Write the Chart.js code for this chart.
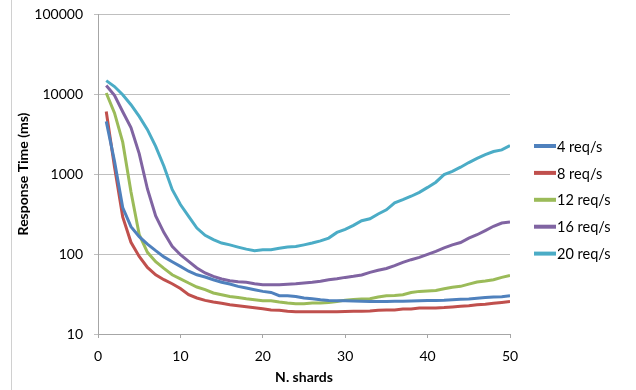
<!DOCTYPE html>
<html>
<head>
<meta charset="utf-8">
<script src="https://cdn.jsdelivr.net/npm/chart.js@4.4.0/dist/chart.umd.min.js"></script>
<style>
  html, body { margin: 0; padding: 0; background: #fff; }
  #wrap { width: 636px; height: 390px; }
</style>
</head>
<body>
<div id="wrap"><canvas id="chart" width="636" height="390"></canvas></div>
<script>
// N. shards
const shards = [1,2,3,4,5,6,7,8,9,10,11,12,13,14,15,16,17,18,19,20,21,22,23,24,25,
  26,27,28,29,30,31,32,33,34,35,36,37,38,39,40,41,42,43,44,45,46,47,48,49,50]

// response time (ms) per series
const req4 = [4550,1450,380,220,165,133,110,92,80,70,61,55,51.6,47.6,44.4,42.2,39.4,37.6,35.8,34.1,
  33.1,30.1,30.1,29.5,28.2,27.6,26.8,26.3,26,26,25.8,25.6,25.5,25.5,25.5,25.6,25.6,25.8,26,26.2,
  26.2,26.4,26.8,27.2,27.4,28,28.5,29,29.3,30]
const req8 = [6050,1230,290,140,93,68,55,47.7,42.5,37,31,28.2,26.3,25.1,24.2,23.2,22.6,21.9,21.3,20.7,
  20,19.8,19.2,19,19,19,19,19,19,19.1,19.2,19.2,19.4,19.8,20,20,20.5,20.6,21.1,21.2,
  21.2,21.4,21.8,22.3,22.6,23.2,23.5,24.2,24.8,25.5]
const req12 = [10300,5800,2500,600,175,105,80,66,55,49,43.4,38.7,35.8,32.6,31,29.5,28.6,27.6,26.8,26,
  26,25.1,24.4,23.9,23.9,24.4,24.4,24.8,25.5,26.5,26.9,27.4,27.6,29,30,30.3,31,33,34.1,34.5,
  35,36.8,38.3,39.4,42,44.6,45.9,47.6,51,54]
const req16 = [12800,9600,6000,3800,1800,650,300,185,125,98,81,67,58,52.6,48.7,46.4,45,44.3,42.6,41.4,
  41.4,41.4,42,42.6,43.5,44.3,45.6,47.6,49,51,52.6,54.6,58.9,62.5,66,71.5,78.6,84.9,90.6,99,
  108,119,130,139,158,174,196,222,244,252]
const req20 = [14700,12400,9800,7350,5250,3580,2210,1250,640,415,295,211,171,151,137,130,122,115,110,113,
  113,118,122,124,130,137,146,158,186,203,228,261,276,316,357,435,477,527,590,680,
  790,982,1080,1216,1390,1570,1750,1910,2000,2270]

const seriesNames = ["4 req/s", "8 req/s", "12 req/s", "16 req/s", "20 req/s"]
const seriesColors = ["#4F81BD", "#C0504D", "#9BBB59", "#8064A2", "#4BACC6"]
const yTicks = [10, 100, 1000, 10000, 100000]

const FONT = "Lato, 'Open Sans', sans-serif"

const toPoints = (vals) => vals.map((v, i) => ({ x: shards[i], y: v }))

// legend drawn by hand, Excel style: short thick line + label
const sideLegend = {
    id: "sideLegend",
    afterDraw(chart){
        const ctx = chart.ctx
        const x0 = 534, top = 146, step = 26.9
        ctx.save()
        ctx.font = "14.5px " + FONT
        ctx.textBaseline = "middle"
        ctx.fillStyle = "#000"
        chart.data.datasets.forEach((ds, i) => {
            const y = top + i * step
            ctx.strokeStyle = ds.borderColor
            ctx.lineWidth = 4
            ctx.beginPath()
            ctx.moveTo(x0, y)
            ctx.lineTo(x0 + 22, y)
            ctx.stroke()
            ctx.fillText(ds.label, x0 + 23, y + 1)
        })
        // thin frame edge on the left
        ctx.strokeStyle = "#d0d0d0"
        ctx.lineWidth = 1
        ctx.beginPath()
        ctx.moveTo(11.5, 0)
        ctx.lineTo(11.5, 390)
        ctx.stroke()
        ctx.restore()
    }
}

const datasets = [req4, req8, req12, req16, req20].map((vals, i) => ({
    label: seriesNames[i],
    data: toPoints(vals),
    borderColor: seriesColors[i],
    backgroundColor: seriesColors[i],
    borderWidth: 3,
    pointRadius: 0,
    tension: 0,
    fill: false
}))

new Chart(document.getElementById("chart"), {
    type: "line",
    data: { datasets },
    options: {
        responsive: false,
        animation: false,
        layout: { padding: { left: 0, right: 126, top: 14, bottom: 0 } },
        plugins: {
            legend: { display: false },
            tooltip: { enabled: false }
        },
        scales: {
            x: {
                type: "linear",
                min: 0,
                max: 50,
                afterFit: (scale) => { scale.height = 56 },
                ticks: {
                    stepSize: 10,
                    padding: 10,
                    color: "#000",
                    font: { family: FONT, size: 14 }
                },
                grid: { drawOnChartArea: false, tickLength: 4, color: "#a6a6a6" },
                border: { color: "#a6a6a6" },
                title: {
                    display: true,
                    text: "N. shards",
                    color: "#000",
                    font: { family: FONT, size: 14, weight: "bold" },
                    padding: { top: 0, bottom: 4 }
                }
            },
            y: {
                type: "logarithmic",
                min: 10,
                max: 100000,
                afterFit: (scale) => {
                    scale.width = 98
                    scale.paddingTop = 0
                    scale.paddingBottom = 0
                },
                afterBuildTicks: (scale) => { scale.ticks = yTicks.map(v => ({ value: v })) },
                ticks: {
                    padding: 11,
                    color: "#000",
                    font: { family: FONT, size: 14 },
                    callback: (v) => String(v)
                },
                grid: { tickLength: 4, color: "#bfbfbf" },
                border: { color: "#a6a6a6" },
                title: {
                    display: true,
                    text: "Response Time (ms)",
                    color: "#000",
                    font: { family: FONT, size: 14, weight: "bold" },
                    padding: { top: 15, bottom: 0 }
                }
            }
        }
    },
    plugins: [sideLegend]
})
</script>
</body>
</html>
